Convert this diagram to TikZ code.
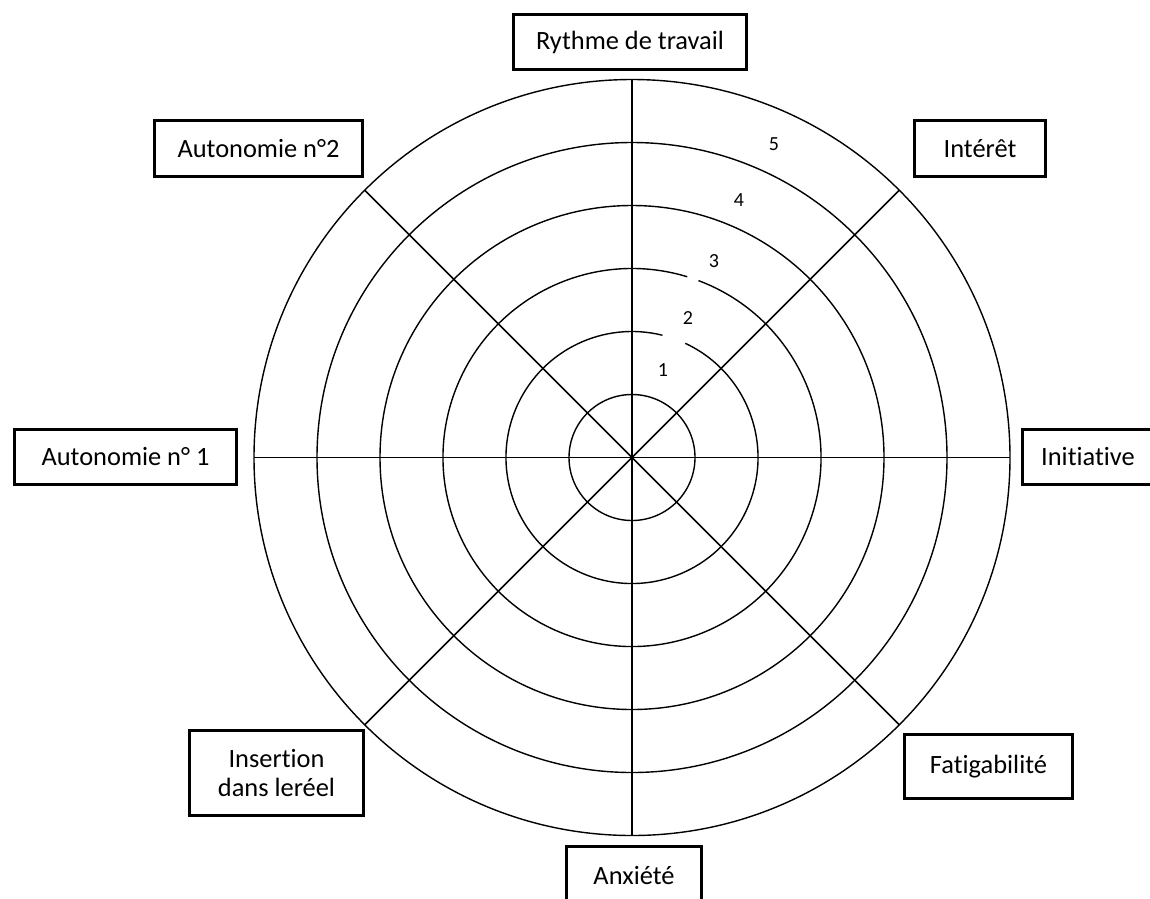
\documentclass[tikz,border=0pt]{standalone}
\usepackage{fontspec}
\setmainfont{Carlito}[Ligatures=NoCommon]
\begin{document}
\begin{tikzpicture}[x=1pt,y=-1pt,
  ring/.style={line width=1.4pt},
  axis/.style={line width=1.5pt},
  catbox/.style={draw=black, line width=3.3pt, inner sep=0pt, align=center,
    font=\fontsize{26.4}{29}\selectfont},
  num/.style={inner sep=0pt, font=\fontsize{20}{22}\selectfont}]
\useasboundingbox (0,0) rectangle (1150,898);
\clip (0,0) rectangle (1150,898);
\fill[white] (0,0) rectangle (1150,898);
\coordinate (c) at (632,457.5);
% rings
\foreach \r in {63,252,315,378}{\draw[ring] (c) circle[radius=\r];}
\draw[ring] (c) ++(-65:126) arc[start angle=-65, end angle=284, radius=126];
\draw[ring] (c) ++(-69.4:189) arc[start angle=-69.4, end angle=287, radius=189];
% axes
\path (c) ++(-90:378) coordinate (n);
\path (c) ++(90:378) coordinate (s);
\path (c) ++(180:378) coordinate (w);
\path (c) ++(0:378) coordinate (e);
\path (c) ++(-45:378) coordinate (ne);
\path (c) ++(-135:378) coordinate (nw);
\path (c) ++(45:378) coordinate (se);
\path (c) ++(135:378) coordinate (sw);
\draw[axis, line width=1.8pt] (n) -- (s);
\draw[axis] (w) -- (e);
\draw[axis] (nw) -- (se);
\draw[axis] (ne) -- (sw);
% scale numbers
\node[num] (l1) at (663,370) {1};
\node[num] (l2) at (688,318) {2};
\node[num] (l3) at (714,261) {3};
\node[num] (l4) at (739,200) {4};
\node[num] (l5) at (774,144) {5};
% category boxes
\node[catbox, minimum width=233pt, minimum height=55pt] (rythme) at (630,42) {Rythme de travail};
\node[catbox, minimum width=208pt, minimum height=56pt] (auto2) at (258.5,148.5) {Autonomie n°2};
\node[catbox, minimum width=131pt, minimum height=56pt] (interet) at (980,148.5) {Intérêt};
\node[catbox, minimum width=222pt, minimum height=55pt] (auto1) at (125.5,457) {Autonomie n° 1};
\node[catbox, minimum width=131pt, minimum height=55pt] (init) at (1088,457) {Initiative};
\node[catbox, minimum width=174pt, minimum height=85pt] (insert) at (276.5,773) {Insertion\\dans leréel};
\node[catbox, minimum width=168pt, minimum height=64pt] (fatig) at (988.5,766.5) {Fatigabilité};
\node[catbox, minimum width=135pt, minimum height=57pt] (anx) at (634,875) {Anxiété};
\end{tikzpicture}
\end{document}
